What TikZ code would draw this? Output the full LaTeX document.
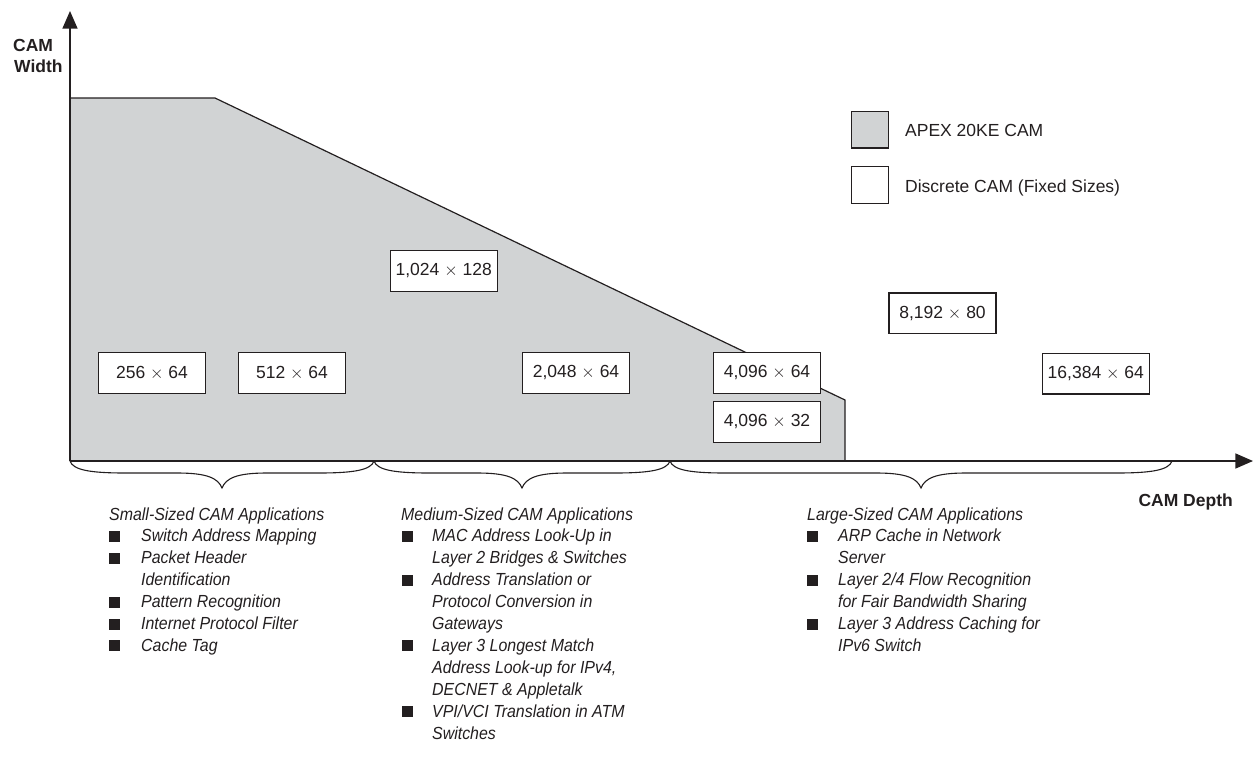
\documentclass[tikz,border=0pt]{standalone}
\usepackage{fontspec}
\setmainfont{Liberation Sans}
\newfontfamily\listfont{Liberation Sans}[FakeStretch=0.91]
\usetikzlibrary{arrows.meta}
\definecolor{camgray}{RGB}{209,211,212}
\definecolor{ink}{RGB}{35,31,32}
\newcommand\camln[4]{\node[listtext] (#1) at (#2,#3) {#4};}
\newcommand\cambul[3]{\node[bulletsq] (#1) at (#2,#3) {};}
\begin{document}
\begin{tikzpicture}[x=1pt,y=-1pt,
  every node/.style={text=ink},
  sizebox/.style={draw=ink, line width=1.3pt, fill=white, minimum width=107pt, minimum height=40.5pt, inner sep=0pt, font=\fontsize{17.5}{21}\selectfont},
  legbox/.style={draw=ink, line width=1.3pt, minimum size=36.6pt, inner sep=0pt},
  legtext/.style={anchor=base west, inner sep=0pt, font=\fontsize{17.5}{21}\selectfont},
  axlabel/.style={inner sep=0pt, font=\fontsize{17.5}{21}\selectfont\bfseries},
  listtext/.style={anchor=base west, inner sep=0pt, font=\listfont\fontsize{17.5}{21}\selectfont\itshape},
  bulletsq/.style={anchor=south west, fill=ink, minimum size=11pt, inner sep=0pt, outer sep=0pt},
  axisline/.style={line width=1.3pt, draw=ink, -{Triangle[length=17.6pt,width=15pt]}},
  bracestyle/.style={draw=ink, line width=1.1pt},
  edgeline/.style={draw=ink, line width=1.2pt}
]
\useasboundingbox (0,0) rectangle (1254,774);

% shaded region
\coordinate (origin) at (70,461);
\coordinate (tl) at (70,98);
\coordinate (tk) at (215,98);
\coordinate (dk) at (845,400);
\coordinate (db) at (845,461);
\fill[camgray] (origin) -- (tl) -- (tk) -- (dk) -- (db) -- cycle;
\draw[edgeline, line join=miter] (tl) -- (tk) -- (dk) -- (db);

% axes
\coordinate (ytip) at (70,11);
\coordinate (xtip) at (1253,461);
\draw[axisline] (origin) -- (ytip);
\draw[axisline] (origin) -- (xtip);

\node[axlabel, anchor=base west] (cw1) at (13,51.7) {CAM};
\node[axlabel, anchor=base west] (cw2) at (14,72.7) {Width};
\node[axlabel, anchor=base east] (cd) at (1233,506.7) {CAM Depth};

% size boxes
\node[sizebox] (b256) at (152,373) {256 $\times$ 64};
\node[sizebox] (b512) at (292,373) {512 $\times$ 64};
\node[sizebox] (b1024) at (443.7,271) {1,024 $\times$ 128};
\node[sizebox] (b2048) at (576,373) {2,048 $\times$ 64};
\node[sizebox] (b4096a) at (767,373) {4,096 $\times$ 64};
\node[sizebox] (b4096b) at (767,422) {4,096 $\times$ 32};
\node[sizebox] (b8192) at (942.5,313.3) {8,192 $\times$ 80};
\node[sizebox] (b16384) at (1095.8,373.7) {16,384 $\times$ 64};

% legend
\node[legbox, fill=camgray] (lg1) at (870,129.7) {};
\node[legbox, fill=white] (lg2) at (870,185) {};
\node[legtext] (lt1) at (905,136.7) {APEX 20KE CAM};
\node[legtext] (lt2) at (905,192.7) {Discrete CAM (Fixed Sizes)};

% braces
\draw[bracestyle] (70,461) .. controls (73,470) and (90,473) .. (125,473) -- (177,473)
  .. controls (207,473) and (218,478) .. (222,488)
  .. controls (226,478) and (237,473) .. (267,473) -- (319,473)
  .. controls (354,473) and (371,470) .. (374,461);
\draw[bracestyle] (374,461) .. controls (377,470) and (394,473) .. (429,473) -- (477,473)
  .. controls (507,473) and (518,478) .. (522,488)
  .. controls (526,478) and (537,473) .. (567,473) -- (615,473)
  .. controls (650,473) and (667,470) .. (670,461);
\draw[bracestyle] (670,461) .. controls (673,470) and (690,473) .. (725,473) -- (876,473)
  .. controls (906,473) and (917,478) .. (921,488)
  .. controls (925,478) and (936,473) .. (966,473) -- (1117,473)
  .. controls (1152,473) and (1169,470) .. (1172,461);

% small list
\camln{s0}{109}{520}{Small-Sized CAM Applications}
\cambul{sb1}{109}{541.9}\camln{s1}{141}{541.9}{Switch Address Mapping}
\cambul{sb2}{109}{563.8}\camln{s2}{141}{563.8}{Packet Header}
\camln{s3}{141}{585.7}{Identification}
\cambul{sb4}{109}{607.6}\camln{s4}{141}{607.6}{Pattern Recognition}
\cambul{sb5}{109}{629.5}\camln{s5}{141}{629.5}{Internet Protocol Filter}
\cambul{sb6}{109}{651.4}\camln{s6}{141}{651.4}{Cache Tag}

% medium list
\camln{m0}{401}{520}{Medium-Sized CAM Applications}
\cambul{mb1}{402}{541.9}\camln{m1}{432}{541.9}{MAC Address Look-Up in}
\camln{m2}{432}{563.8}{Layer 2 Bridges \& Switches}
\cambul{mb3}{402}{585.7}\camln{m3}{432}{585.7}{Address Translation or}
\camln{m4}{432}{607.6}{Protocol Conversion in}
\camln{m5}{432}{629.5}{Gateways}
\cambul{mb6}{402}{651.4}\camln{m6}{432}{651.4}{Layer 3 Longest Match}
\camln{m7}{432}{673.3}{Address Look-up for IPv4,}
\camln{m8}{432}{695.2}{DECNET \& Appletalk}
\cambul{mb9}{402}{717.1}\camln{m9}{432}{717.1}{VPI/VCI Translation in ATM}
\camln{m10}{432}{739}{Switches}

% large list
\camln{l0}{807}{520}{Large-Sized CAM Applications}
\cambul{lb1}{807}{541.9}\camln{l1}{838}{541.9}{ARP Cache in Network}
\camln{l2}{838}{563.8}{Server}
\cambul{lb3}{807}{585.7}\camln{l3}{838}{585.7}{Layer 2/4 Flow Recognition}
\camln{l4}{838}{607.6}{for Fair Bandwidth Sharing}
\cambul{lb5}{807}{629.5}\camln{l5}{838}{629.5}{Layer 3 Address Caching for}
\camln{l6}{838}{651.4}{IPv6 Switch}
\end{tikzpicture}
\end{document}
